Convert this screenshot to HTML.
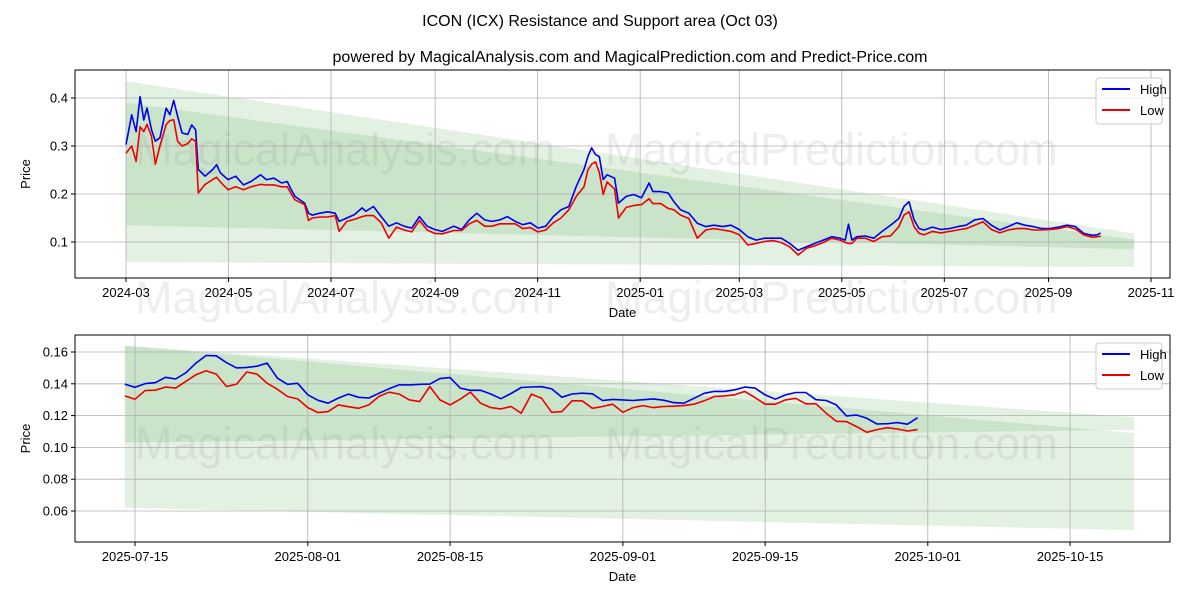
<!DOCTYPE html>
<html><head><meta charset="utf-8"><style>
body{margin:0;background:#fff;}
svg{display:block;font-family:"Liberation Sans","DejaVu Sans",sans-serif;}
</style></head><body>
<svg id="chart" width="1200" height="600" viewBox="0 0 1200 600">
<text x="600" y="26" text-anchor="middle" font-size="16">ICON (ICX) Resistance and Support area (Oct 03)</text>
<text x="630" y="62" text-anchor="middle" font-size="16">powered by MagicalAnalysis.com and MagicalPrediction.com and Predict-Price.com</text>
</svg>
<script>
// ---- top chart data (day offsets since 2024-03-01) ----
const topDays=[0,3.4,6,8.4,10.6,12.5,15.2,17.5,20.2,23.9,26.1,28.4,30.7,33.4,36.8,39.1,41.4,43,47.1,51.6,53.9,56.2,60.7,65.3,69.9,74.4,80.1,83.5,88.1,92.6,96,98.3,100.6,106.3,108.6,110.9,115.4,120,124.5,126.8,131.4,135.9,140.5,142.7,147.3,151.9,156.4,161,165.5,170.1,174.6,179.2,183.7,188.3,195.1,199.7,204.3,208.8,213.4,217.9,222.5,227,231.6,236.1,240.7,245.2,249.8,254.3,258.9,263.5,268,272.6,274.9,277.1,279.4,281.7,284,286.3,290.8,293.1,297.7,302.2,306.8,311.3,313.6,318.2,322.7,326.1,330,335,340,345,350,355,360,365,370,375,380,385,390,395,400,405,410,415,420,425,428,430,432,435,440,445,450,455,460,463,466,469,472,475,480,485,490,495,500,505,510,515,520,525,530,535,540,545,550,555,560,565,570,575,578,580];
const topHigh=[.303,.365,.33,.403,.354,.379,.334,.310,.317,.379,.365,.395,.362,.327,.324,.344,.334,.251,.237,.251,.261,.244,.230,.237,.219,.226,.240,.230,.233,.223,.226,.209,.195,.181,.160,.156,.160,.163,.160,.143,.150,.157,.171,.164,.174,.153,.133,.140,.133,.129,.153,.133,.126,.122,.133,.126,.146,.160,.146,.143,.146,.153,.143,.136,.140,.129,.133,.153,.167,.174,.216,.251,.278,.296,.282,.278,.230,.240,.233,.181,.195,.199,.192,.223,.205,.205,.202,.184,.167,.160,.139,.132,.135,.132,.135,.126,.111,.104,.108,.108,.108,.097,.083,.090,.097,.104,.111,.108,.104,.137,.104,.111,.1125,.108,.122,.135,.149,.174,.184,.146,.128,.125,.131,.126,.128,.132,.135,.146,.149,.135,.125,.132,.140,.135,.132,.128,.128,.131,.135,.132,.118,.114,.115,.119];
const topLow=[.285,.300,.268,.34,.33,.345,.32,.262,.30,.345,.353,.355,.31,.30,.305,.315,.31,.202,.22,.23,.235,.225,.209,.215,.209,.215,.22,.219,.219,.215,.215,.2,.188,.178,.145,.15,.152,.152,.155,.122,.143,.147,.153,.155,.155,.14,.108,.131,.125,.121,.145,.125,.118,.117,.124,.124,.138,.145,.133,.133,.138,.138,.138,.128,.13,.121,.125,.14,.15,.167,.195,.215,.25,.262,.267,.245,.199,.225,.21,.150,.172,.176,.178,.19,.18,.18,.17,.167,.156,.149,.108,.125,.128,.125,.122,.115,.094,.097,.101,.103,.099,.090,.073,.087,.092,.099,.108,.104,.099,.097,.097,.108,.108,.101,.111,.1125,.132,.156,.163,.132,.118,.115,.122,.119,.122,.125,.128,.135,.142,.126,.119,.125,.128,.128,.125,.125,.126,.128,.132,.127,.115,.110,.111,.112];
const topTicks=[0.1,0.2,0.3,0.4];
const topTickLabels=["0.1","0.2","0.3","0.4"];
const topXTickLabels=["2024-03","2024-05","2024-07","2024-09","2024-11","2025-01","2025-03","2025-05","2025-07","2025-09","2025-11"];
const topBand1Top=[0.435,0.118], topBand1Bot=[0.135,0.085];
const topBand2Top=[0.39,0.105], topBand2Bot=[0.058,0.048];
// ---- bottom chart data ----
const botStart="2025-07-14";
const botHigh=[.1398,.1378,.1401,.1407,.1441,.1430,.1469,.1530,.1578,.1576,.1533,.1500,.1503,.1511,.1530,.1436,.1397,.1403,.1331,.1296,.1278,.1310,.1335,.1315,.1311,.1340,.1369,.1394,.1393,.1397,.1398,.1433,.1439,.1373,.1359,.1360,.1336,.1306,.1339,.1377,.1380,.1382,.1368,.1316,.1336,.1341,.1337,.1295,.1302,.1299,.1295,.1300,.1305,.1297,.1282,.1278,.1309,.1340,.1352,.1352,.1362,.1379,.1373,.1330,.1303,.1330,.1345,.1345,.1300,.1295,.1267,.1198,.1204,.1183,.1147,.1149,.1156,.1146,.1187];
const botLow=[.1324,.1303,.1358,.1360,.1379,.1373,.1415,.1457,.1482,.1461,.1383,.1398,.1474,.1461,.1404,.1366,.1320,.1305,.1250,.1219,.1225,.1267,.1256,.1246,.1267,.1320,.1347,.1335,.1299,.1288,.1383,.1299,.1267,.1303,.1347,.1278,.1250,.1242,.1257,.1215,.1335,.1309,.1221,.1225,.1293,.1293,.1246,.1257,.1272,.1221,.1250,.1263,.1250,.1257,.1259,.1263,.1272,.1293,.1320,.1324,.1331,.1352,.1313,.1272,.1272,.1299,.1309,.1274,.1274,.1215,.1164,.1162,.1131,.1095,.1112,.1124,.1116,.1103,.1112];
const botTicks=[0.06,0.08,0.10,0.12,0.14,0.16];
const botTickLabels=["0.06","0.08","0.10","0.12","0.14","0.16"];
const botXTicks=["2025-07-15","2025-08-01","2025-08-15","2025-09-01","2025-09-15","2025-10-01","2025-10-15"];
const botBand1Top=[0.164,0.119], botBand1Bot=[0.103,0.111];
const botBand2Top=[0.164,0.109], botBand2Bot=[0.062,0.048];

const NS="http://www.w3.org/2000/svg";
const svg=document.getElementById('chart');
function mk(tag,attrs,parent){const e=document.createElementNS(NS,tag);for(const k in attrs)e.setAttribute(k,attrs[k]);(parent||svg).appendChild(e);return e;}
function dayOf(s,base){return (Date.UTC(+s.slice(0,4),+s.slice(5,7)-1,+(s.slice(8,10)||1))-base)/86400000;}

function drawPanel(p){
  const g=mk('g',{});
  
  
  const X=p.X,Y=p.Y;
  const bandColA='rgba(0,128,0,0.11)';
  [[p.b1t,p.b1b,'resistance-band'],[p.b2t,p.b2b,'support-band']].forEach(b=>{
    const pts=[[p.bx0,b[0][0]],[p.bx1,b[0][1]],[p.bx1,b[1][1]],[p.bx0,b[1][0]]].map(q=>X(q[0])+','+Y(q[1])).join(' ');
    const e=mk('polygon',{points:pts,fill:bandColA},g);
    
    
  });
  p.yt.forEach((v,i)=>{
    mk('line',{x1:p.L,x2:p.R,y1:Y(v),y2:Y(v),stroke:'#b0b0b0','stroke-width':0.8},g);
    const t=mk('text',{x:p.L-7,y:Y(v)+4.5,'text-anchor':'end','font-size':13},g);t.textContent=p.ytl[i];
    
    
    mk('line',{x1:p.L-4,x2:p.L,y1:Y(v),y2:Y(v),stroke:'#000'},g);
  });
  p.xt.forEach(([d,l])=>{
    mk('line',{x1:X(d),x2:X(d),y1:p.T,y2:p.B,stroke:'#b0b0b0','stroke-width':0.8},g);
    mk('line',{x1:X(d),x2:X(d),y1:p.B,y2:p.B+4,stroke:'#000'},g);
    const t=mk('text',{x:X(d),y:p.B+19,'text-anchor':'middle','font-size':13},g);t.textContent=l;
    
    
  });
  p.wm.forEach(w=>{const t=mk('text',{x:w[0],y:w[1],'font-size':45,fill:'rgba(120,120,120,0.13)'},g);t.textContent=w[2];
    
    });
  [[p.hi,'#0000ee','high-line'],[p.lo,'#ee0000','low-line']].forEach(s=>{
    const d=s[0].map((v,i)=>(i?'L':'M')+X(p.days[i]).toFixed(1)+','+Y(v).toFixed(1)).join('');
    const e=mk('path',{d:d,fill:'none',stroke:s[1],'stroke-width':1.6,'stroke-linejoin':'round'},g);
    
    
  });
  const fr=mk('rect',{x:p.L,y:p.T,width:p.R-p.L,height:p.B-p.T,fill:'none',stroke:'#000','stroke-width':1},g);
  
  
  const yl=mk('text',{x:0,y:0,transform:`translate(30,${(p.T+p.B)/2}) rotate(-90)`,'text-anchor':'middle','font-size':13},g);yl.textContent='Price';
  
  
  const xl=mk('text',{x:(p.L+p.R)/2,y:p.B+39,'text-anchor':'middle','font-size':13},g);xl.textContent='Date';
  
  
  const lg=mk('g',{},g);
  
  
  mk('rect',{x:1096,y:p.T+8,width:66,height:46,rx:3,fill:'rgba(255,255,255,0.8)',stroke:'#ccc'},lg);
  [['High','#0000ee',19],['Low','#ee0000',40]].forEach(l=>{
    mk('line',{x1:1102,x2:1130,y1:p.T+l[2],y2:p.T+l[2],stroke:l[1],'stroke-width':2},lg);
    const t=mk('text',{x:1140,y:p.T+l[2]+5,'font-size':13},lg);t.textContent=l[0];
    
    
  });
}
const base1=Date.UTC(2024,2,1);
drawPanel({name:'top-panel',L:75,R:1170,T:70,B:278,
  X:d=>126+d*1.6803, Y:v=>242-(v-0.1)*480,
  days:topDays,hi:topHigh,lo:topLow,bx0:0,bx1:600,
  b1t:topBand1Top,b1b:topBand1Bot,b2t:topBand2Top,b2b:topBand2Bot,
  yt:topTicks,ytl:topTickLabels,
  xt:topXTickLabels.map(s=>[dayOf(s+'-01',base1),s]),
  wm:[[135,165,'MagicalAnalysis.com'],[605,165,'MagicalPrediction.com'],[135,313,'MagicalAnalysis.com'],[605,313,'MagicalPrediction.com']]});
const base2=Date.UTC(2025,6,15);
const s0=dayOf(botStart,base2);
drawPanel({name:'bottom-panel',L:75,R:1170,T:335,B:542,
  X:d=>135+d*10.164, Y:v=>352-(v-0.16)*1590,
  days:botHigh.map((_,i)=>s0+i),hi:botHigh,lo:botLow,bx0:s0,bx1:98.3,
  b1t:botBand1Top,b1b:botBand1Bot,b2t:botBand2Top,b2b:botBand2Bot,
  yt:botTicks,ytl:botTickLabels,
  xt:botXTicks.map(s=>[dayOf(s,base2),s]),
  wm:[[135,459,'MagicalAnalysis.com'],[605,459,'MagicalPrediction.com']]});
</script>
</body></html>
